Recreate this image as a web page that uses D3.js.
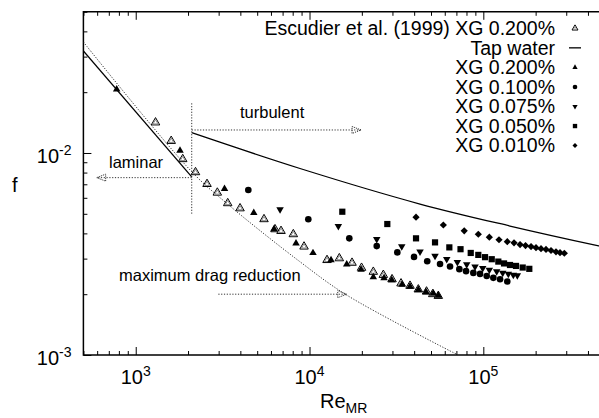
<!DOCTYPE html>
<html>
<head>
<meta charset="utf-8">
<script src="https://cdn.jsdelivr.net/npm/d3@7"></script>
<style>
  body { margin: 0; background: #fff; }
  svg { display: block; font-family: "Liberation Sans", Arial, Helvetica, sans-serif; }
</style>
</head>
<body>
<svg id="chart" width="599" height="418"></svg>
<script>
// ---- Data: friction factor f versus Re_MR, pairs of [Re_MR, f] ----
const escudier200 = [
  [1300, 0.01416], [1600, 0.01147], [1864, 0.00932], [2208, 0.00803], [2572, 0.00702],
  [2948, 0.00636], [3383, 0.00564], [3983, 0.00532], [5472, 0.00470], [6331, 0.00419],
  [6855, 0.00411], [8068, 0.00396], [9299, 0.00344], [12610, 0.00295], [14840, 0.00301],
  [17560, 0.00286], [19920, 0.00270], [23280, 0.00258], [26590, 0.00249], [29840, 0.00237],
  [33610, 0.00226], [37870, 0.00220], [42270, 0.00211], [47120, 0.00206], [51160, 0.00200],
  [55090, 0.00196]
];
const xg200 = [
  [777, 0.02067], [1798, 0.01029], [3243, 0.00665], [4779, 0.00505], [6247, 0.00420],
  [8362, 0.00357], [10470, 0.00320], [13300, 0.00295], [16370, 0.00281], [19790, 0.00265],
  [23280, 0.00243], [26840, 0.00240], [29720, 0.00235], [34060, 0.00223], [37870, 0.00218],
  [42270, 0.00210], [46810, 0.00205], [51560, 0.00202], [55090, 0.00197]
];
const xg100 = [
  [4445, 0.00656], [9842, 0.00470], [16940, 0.00378], [24360, 0.00346], [32010, 0.00322],
  [39930, 0.00306], [47560, 0.00291], [56360, 0.00282], [64340, 0.00274], [72780, 0.00266],
  [79540, 0.00260], [87600, 0.00255], [95720, 0.00252], [104600, 0.00246], [114200, 0.00241],
  [124800, 0.00237], [137400, 0.00231]
];
const xg075 = [
  [6767, 0.00526], [14650, 0.00434], [24360, 0.00374], [33930, 0.00345], [43230, 0.00325],
  [52740, 0.00309], [61580, 0.00298], [70890, 0.00288], [80270, 0.00281], [89610, 0.00274],
  [99200, 0.00269], [108300, 0.00264], [119400, 0.00259], [129300, 0.00255], [139300, 0.00252],
  [148800, 0.00249], [156900, 0.00248]
];
const xg050 = [
  [15440, 0.00512], [28030, 0.00445], [41000, 0.00378], [52740, 0.00361], [63750, 0.00341],
  [73930, 0.00334], [84640, 0.00320], [93590, 0.00313], [102300, 0.00305], [111800, 0.00298],
  [122000, 0.00290], [131600, 0.00284], [142400, 0.00279], [154200, 0.00276], [168500, 0.00271],
  [183900, 0.00267]
];
const xg010 = [
  [41000, 0.00481], [58880, 0.00440], [77660, 0.00412], [93590, 0.00396], [108300, 0.00383],
  [123100, 0.00372], [137400, 0.00364], [150200, 0.00359], [162700, 0.00352], [174900, 0.00348],
  [188200, 0.00344], [201000, 0.00340], [214800, 0.00336], [229500, 0.00333], [245200, 0.00329],
  [261900, 0.00324], [276300, 0.00321], [292500, 0.00319]
];

// Reference curves
const laminarCurve = [[500, 0.032], [2100, 0.00762]];
const tapWaterCurve = [[2100, 0.0126], [8816, 0.00838], [43230, 0.00559], [142400, 0.00435], [461000, 0.00347], [500000, 0.00342]];
const mdrCurve = [[500, 0.03543], [2100, 0.00808], [3334, 0.00564], [8790, 0.00290], [16370, 0.00198], [71500, 0.0010]];

// Axis ticks
const xMajorTicks = [1e3, 1e4, 1e5];
const xTickExponents = ["3", "4", "5"];
const yMajorTicks = [1e-3, 1e-2];
const yTickExponents = ["-3", "-2"];
const xMinorTicks = [500, 600, 700, 800, 900, 2e3, 3e3, 4e3, 5e3, 6e3, 7e3, 8e3, 9e3,
  2e4, 3e4, 4e4, 5e4, 6e4, 7e4, 8e4, 9e4, 2e5, 3e5, 4e5, 5e5];
const yMinorTicks = [0.002, 0.003, 0.004, 0.005, 0.006, 0.007, 0.008, 0.009, 0.02, 0.03, 0.04, 0.05];

// Legend
const legendLabels = ["Escudier et al. (1999) XG 0.200%", "Tap water", "XG 0.200%", "XG 0.100%", "XG 0.075%", "XG 0.050%", "XG 0.010%"];
const legendKeys = ["open", "line", "tri", "circle", "tridown", "square", "diamond"];

// ---- Layout ----
const svg = d3.select("#chart");
const plotLeft = 83.4, plotRight = 604.8, plotTop = 11.8, plotBottom = 355;
const x = d3.scaleLog().domain([500, 5e5]).range([plotLeft, plotRight]);
const y = d3.scaleLog().domain([0.001, 0.05]).range([plotBottom, plotTop]);

svg.append("defs").append("clipPath").attr("id", "plotClip")
  .append("rect").attr("x", plotLeft).attr("y", plotTop)
  .attr("width", plotRight - plotLeft).attr("height", plotBottom - plotTop);

// ticks (inward, mirrored)
function tickAxis(axisGen, tf) {
  const g = svg.append("g").attr("transform", tf).call(axisGen);
  g.select(".domain").remove();
  g.selectAll("line").attr("stroke", "#000").attr("stroke-width", 1);
  g.selectAll("text").remove();
}
tickAxis(d3.axisBottom(x).tickValues(xMajorTicks).tickSize(-8), `translate(0,${plotBottom})`);
tickAxis(d3.axisBottom(x).tickValues(xMinorTicks).tickSize(-4), `translate(0,${plotBottom})`);
tickAxis(d3.axisTop(x).tickValues(xMajorTicks).tickSize(-8), `translate(0,${plotTop})`);
tickAxis(d3.axisTop(x).tickValues(xMinorTicks).tickSize(-4), `translate(0,${plotTop})`);
tickAxis(d3.axisLeft(y).tickValues(yMajorTicks).tickSize(-8), `translate(${plotLeft},0)`);
tickAxis(d3.axisLeft(y).tickValues(yMinorTicks).tickSize(-4), `translate(${plotLeft},0)`);

// frame
svg.append("path")
  .attr("d", `M${plotRight},${plotTop}H${plotLeft}V${plotBottom}H${plotRight}`)
  .attr("fill", "none").attr("stroke", "#000").attr("stroke-width", 1.5);

// tick labels
xMajorTicks.forEach((v, i) => {
  const t = svg.append("text").attr("x", x(v)).attr("y", 384).attr("text-anchor", "middle")
    .attr("font-size", 20).attr("fill", "#000");
  t.append("tspan").text("10");
  t.append("tspan").attr("dy", -8).attr("font-size", 14).text(xTickExponents[i]);
});
yMajorTicks.forEach((v, i) => {
  const t = svg.append("text").attr("x", 71.5).attr("y", y(v) + 10).attr("text-anchor", "end")
    .attr("font-size", 20).attr("fill", "#000");
  t.append("tspan").text("10");
  t.append("tspan").attr("dy", -8).attr("font-size", 14).text(yTickExponents[i]);
});

// axis titles
svg.append("text").attr("x", 12).attr("y", 192).attr("font-size", 20).text("f");
const xt = svg.append("text").attr("x", 320).attr("y", 408).attr("font-size", 20);
xt.append("tspan").text("Re");
xt.append("tspan").attr("dy", 5).attr("font-size", 14).text("MR");

// ---- Curves ----
const plot = svg.append("g").attr("clip-path", "url(#plotClip)");
const line = d3.line().x(d => x(d[0])).y(d => y(d[1]));
const smooth = d3.line().x(d => x(d[0])).y(d => y(d[1])).curve(d3.curveCatmullRom);
const dotted = "1.2,1.6";

plot.append("path").datum(mdrCurve).attr("d", smooth)
  .attr("fill", "none").attr("stroke", "#333").attr("stroke-width", 1).attr("stroke-dasharray", dotted);
plot.append("path").datum(laminarCurve).attr("d", line)
  .attr("fill", "none").attr("stroke", "#000").attr("stroke-width", 1.3);
plot.append("path").datum(tapWaterCurve).attr("d", smooth)
  .attr("fill", "none").attr("stroke", "#000").attr("stroke-width", 1.3);

// regime boundary and arrows
const reCrit = 2100;
function dottedLine(x1, y1, x2, y2) {
  plot.append("line").attr("x1", x1).attr("y1", y1).attr("x2", x2).attr("y2", y2)
    .attr("stroke", "#333").attr("stroke-width", 1).attr("stroke-dasharray", dotted);
}
function arrow(reFrom, reTo, fv) {
  const x1 = x(reFrom), x2 = x(reTo), yy = y(fv);
  const dir = x2 > x1 ? 1 : -1;
  dottedLine(x1, yy, x2, yy);
  plot.append("path")
    .attr("d", `M${x2},${yy}L${x2 - dir * 9},${yy - 3.5}L${x2 - dir * 9},${yy + 3.5}Z`)
    .attr("fill", "none").attr("stroke", "#333").attr("stroke-width", 1).attr("stroke-dasharray", "1.2,1");
}
dottedLine(x(reCrit), y(0.01762), x(reCrit), y(0.00493));
arrow(reCrit, 19790, 0.0130);
arrow(reCrit, 596, 0.00755);
arrow(2988, 16370, 0.00200);

// annotations
svg.append("text").attr("x", 240).attr("y", 118).attr("font-size", 16.5).text("turbulent");
svg.append("text").attr("x", 109).attr("y", 168).attr("font-size", 16.5).text("laminar");
svg.append("text").attr("x", 119).attr("y", 281).attr("font-size", 16.5).text("maximum drag reduction");

// ---- Markers ----
function triPath(s) { // equilateral, pointing up, side s
  const h = s * Math.sqrt(3) / 2;
  return `M0,${-2 * h / 3}L${s / 2},${h / 3}L${-s / 2},${h / 3}Z`;
}
function drawMarker(g, kind, cx, cy, k) {
  const t = `translate(${cx},${cy})`;
  if (kind === "open") {
    g.append("path").attr("transform", t).attr("d", triPath(8.5 * k))
      .attr("fill", "#fff").attr("stroke", "#000").attr("stroke-width", 1);
    g.append("path").attr("transform", t).attr("d", triPath(5 * k))
      .attr("fill", "#fff").attr("stroke", "#888").attr("stroke-width", 1);
  } else if (kind === "tri") {
    g.append("path").attr("transform", t).attr("d", triPath(7.5 * k)).attr("fill", "#000");
  } else if (kind === "tridown") {
    g.append("path").attr("transform", t + " rotate(180)").attr("d", triPath(7.5 * k)).attr("fill", "#000");
  } else if (kind === "circle") {
    g.append("circle").attr("cx", cx).attr("cy", cy).attr("r", 3.3 * k).attr("fill", "#000");
  } else if (kind === "square") {
    const s = 6.2 * k;
    g.append("rect").attr("x", cx - s / 2).attr("y", cy - s / 2).attr("width", s).attr("height", s).attr("fill", "#000");
  } else if (kind === "diamond") {
    const r = 3.6 * k;
    g.append("path").attr("transform", t).attr("d", `M0,${-r}L${r},0L0,${r}L${-r},0Z`).attr("fill", "#000");
  }
}
const marks = plot.append("g");
const seriesList = [
  [escudier200, "open"], [xg200, "tri"], [xg100, "circle"],
  [xg075, "tridown"], [xg050, "square"], [xg010, "diamond"]
];
seriesList.forEach(([data, kind]) => {
  data.forEach(d => drawMarker(marks, kind, x(d[0]), y(d[1]), 1));
});

// ---- Legend ----
const legend = svg.append("g");
legendLabels.forEach((lab, i) => {
  const cy = 28.3 + i * 19.55;
  legend.append("text").attr("x", 555).attr("y", cy + 6.8).attr("text-anchor", "end")
    .attr("font-size", 19.5).text(lab);
  if (legendKeys[i] === "line") {
    legend.append("line").attr("x1", 569).attr("x2", 581).attr("y1", cy).attr("y2", cy)
      .attr("stroke", "#000").attr("stroke-width", 1.3);
  } else {
    drawMarker(legend, legendKeys[i], 575, cy, 0.7);
  }
});
</script>
</body>
</html>
